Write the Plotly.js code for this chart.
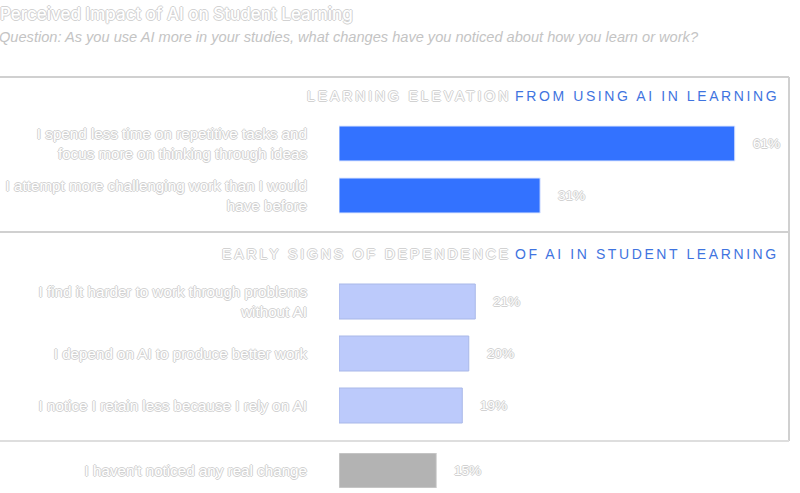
<!DOCTYPE html>
<html>
<head>
<meta charset="utf-8">
<script src="https://cdn.plot.ly/plotly-3.0.1.min.js"></script>
<style>html,body{margin:0;padding:0;background:#fff;}</style>
</head>
<body>
<div id="chart" style="width:800px;height:493px;"></div>
<script>
// ---- data ----
const elevLabels = ["I spend less time on repetitive tasks and<br>focus more on thinking through ideas",
                    "I attempt more challenging work than I would<br>have before"];
const elevValues = [61, 31];
const depLabels = ["I find it harder to work through problems<br>without AI",
                   "I depend on AI to produce better work",
                   "I notice I retain less because I rely on AI"];
const depValues = [21, 20, 19];
const noneLabels = ["I haven't noticed any real change"];
const noneValues = [15];

const titleText = "Perceived Impact of AI on Student Learning";
const subtitleText = "Question: As you use AI more in your studies, what changes have you noticed about how you learn or work?";
const header1 = ["LEARNING ELEVATION", "FROM USING AI IN LEARNING"];
const header2 = ["EARLY SIGNS OF DEPENDENCE", "OF AI IN STUDENT LEARNING"];

// ---- style ----
const W = 800, H = 493;
const py = p => 1 - p / H;
const px = p => p / W;
const outline = "-1px 0 0 #d2d2d2, 1px 0 0 #d2d2d2, 0 -1px 0 #d2d2d2, 0 1px 0 #d2d2d2";
const labelFont = {family: "Liberation Sans, Arial, sans-serif", size: 15.2, color: "#ffffff", shadow: outline};
const valFont = {family: "Liberation Sans, Arial, sans-serif", size: 13.5, color: "#ffffff", shadow: outline};

function barTrace(labels, values, yax, fill, edge, width) {
  const t = {
    type: "bar", orientation: "h", x: values, y: labels,
    xaxis: "x", yaxis: yax,
    marker: {color: fill, line: {color: edge, width: 1}},
    hoverinfo: "none", showlegend: false
  };
  if (width) t.width = width;
  return t;
}

const data = [
  barTrace(elevLabels, elevValues, "y", "#3372ff", "#dfe8ff"),
  barTrace(depLabels, depValues, "y2", "#bccafb", "#a9b8e8"),
  barTrace(noneLabels, noneValues, "y3", "#b3b3b3", "#d6d6d6", 1)
];

function yax(domain, n) {
  return {
    domain: domain, type: "category", autorange: false, range: [n - 0.5, -0.5],
    showgrid: false, zeroline: false, showline: false, ticks: "",
    tickfont: labelFont, ticklabelstandoff: 31, fixedrange: true
  };
}

const annotations = [];
function valueLabels(labels, values, yref) {
  labels.forEach((lab, i) => {
    annotations.push({
      x: values[i], y: lab, xref: "x", yref: yref,
      text: values[i] + "%", showarrow: false, xanchor: "left", xshift: 16,
      font: valFont
    });
  });
}
valueLabels(elevLabels, elevValues, "y");
valueLabels(depLabels, depValues, "y2");
valueLabels(noneLabels, noneValues, "y3");

function header(parts, yPix) {
  return {
    xref: "paper", yref: "paper", x: px(781), y: py(yPix), xanchor: "right", yanchor: "middle",
    showarrow: false,
    font: {family: "Liberation Sans, Arial, sans-serif", size: 14, color: "#ffffff"},
    text: '<span style="letter-spacing:2.9px;text-shadow:' + outline + '">' + parts[0] + '</span> ' +
          '<span style="letter-spacing:2.6px;color:#3f74e0">' + parts[1] + '</span>'
  };
}
annotations.push(header(header1, 96));
annotations.push(header(header2, 254));
annotations.push({
  xref: "paper", yref: "paper", x: px(-3), y: py(37), xanchor: "left", yanchor: "middle",
  showarrow: false, text: "<i>" + subtitleText + "</i>",
  font: {family: "Liberation Sans, Arial, sans-serif", size: 14.6, color: "#c4c4c4"}
});

const lineC = "#d0d0d0";
const shapes = [
  {type: "line", xref: "paper", yref: "paper", x0: 0, x1: px(789), y0: py(77), y1: py(77), line: {color: lineC, width: 2}},
  {type: "line", xref: "paper", yref: "paper", x0: px(789), x1: px(789), y0: py(77), y1: py(441), line: {color: lineC, width: 2}},
  {type: "line", xref: "paper", yref: "paper", x0: 0, x1: px(789), y0: py(232), y1: py(232), line: {color: lineC, width: 2}},
  {type: "line", xref: "paper", yref: "paper", x0: 0, x1: px(789), y0: py(441), y1: py(441), line: {color: "#dedede", width: 2}}
];

const layout = {
  width: W, height: H,
  margin: {l: 0, r: 0, t: 0, b: 0, pad: 0},
  paper_bgcolor: "#ffffff", plot_bgcolor: "rgba(0,0,0,0)",
  bargap: 0.327,
  title: {
    text: titleText, x: 0, xanchor: "left", xref: "paper", yref: "container",
    y: py(14), yanchor: "middle",
    font: {family: "Inter, Lato, sans-serif", size: 17, weight: 500, color: "#ffffff", shadow: outline}
  },
  xaxis: {domain: [px(339), px(788)], range: [0, 69.2], visible: false, fixedrange: true},
  yaxis: yax([py(221.5), py(117.5)], 2),
  yaxis2: yax([py(431.5), py(275.5)], 3),
  yaxis3: yax([py(488), py(453)], 1),
  annotations: annotations,
  shapes: shapes
};

Plotly.newPlot("chart", data, layout, {displayModeBar: false, staticPlot: true});
</script>
</body>
</html>
